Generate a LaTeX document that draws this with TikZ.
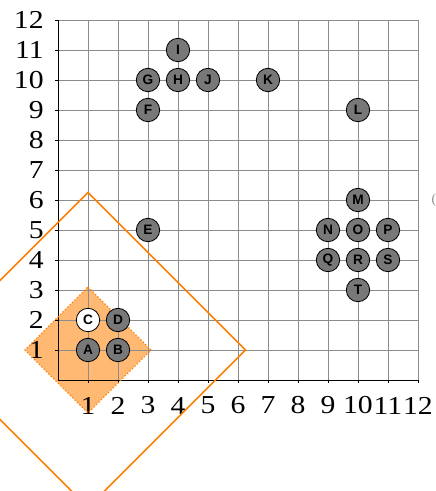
\documentclass[tikz,border=0pt]{standalone}
\usepackage{fontspec}
\setmainfont{Liberation Serif}
\newfontfamily\ptfont{Liberation Sans}
\newfontfamily\axfont[FakeStretch=1.15]{Liberation Serif}
\usetikzlibrary{positioning}

\begin{document}
\begin{tikzpicture}[x=1cm,y=1cm,
  pt/.style={circle,draw=black,line width=0.8pt,fill=black!53,minimum size=0.78cm,inner sep=0pt,font=\ptfont\bfseries\fontsize{13}{13}\selectfont},
  ptw/.style={pt,fill=white},
  ax/.style={font=\axfont\fontsize{24.5}{25}\selectfont,inner sep=0pt}]
  \useasboundingbox (-1.933,-3.7) rectangle (12.6,12.667);

  % small region
  \fill[orange!55] (1,3.1) -- (3.1,1) -- (1,-1.1) -- (-1.1,1) -- cycle;

  % grid and axes
  \draw[black!45,line width=0.6pt] (0,0) grid (12,12);
  \draw[black,line width=0.6pt] (0,12) -- (0,0) -- (12,0);
  \foreach \i in {1,...,12} {
    \draw[black,line width=0.6pt] (\i,0) -- (\i,-0.1);
    \draw[black,line width=0.6pt] (0,\i) -- (-0.1,\i);
    \node[ax] (xl\i) at (\i,-0.85) {\i};
    \node[ax,anchor=east] (yl\i) at (-0.47,\i) {\i};
  }

  \draw[orange,dotted,line width=1.2pt] (1,3.1) -- (3.1,1) -- (1,-1.1) -- (-1.1,1) -- cycle;
  \draw[orange,line width=1.4pt] (1,6.25) -- (6.25,1) -- (1,-4.25) -- (-4.25,1) -- cycle;

  % points
  \node[pt] (A) at (1,1) {A};
  \node[pt] (B) at (2,1) {B};
  \node[ptw] (C) at (1,2) {C};
  \node[pt] (D) at (2,2) {D};
  \node[pt] (E) at (3,5) {E};
  \node[pt] (F) at (3,9) {F};
  \node[pt] (G) at (3,10) {G};
  \node[pt] (H) at (4,10) {H};
  \node[pt] (I) at (4,11) {I};
  \node[pt] (J) at (5,10) {J};
  \node[pt] (K) at (7,10) {K};
  \node[pt] (L) at (10,9) {L};
  \node[pt] (M) at (10,6) {M};
  \node[pt] (N) at (9,5) {N};
  \node[pt] (O) at (10,5) {O};
  \node[pt] (P) at (11,5) {P};
  \node[pt] (Q) at (9,4) {Q};
  \node[pt] (R) at (10,4) {R};
  \node[pt] (S) at (11,4) {S};
  \node[pt] (T) at (10,3) {T};

  \node[anchor=west,inner sep=0pt,text=black!45,font=\fontsize{13}{13}\selectfont] (cut) at (12.45,5.98) {(};
\end{tikzpicture}
\end{document}
